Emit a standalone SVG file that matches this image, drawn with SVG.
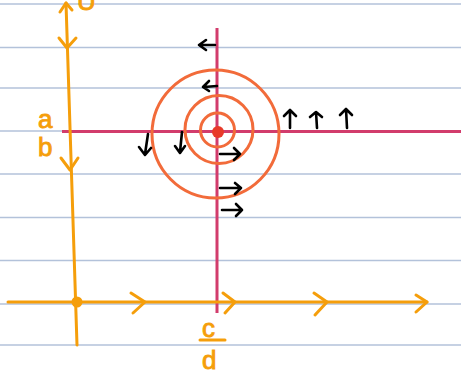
<svg xmlns="http://www.w3.org/2000/svg" width="461" height="371" viewBox="0 0 461 371">
<style>
.rule{stroke:#b3c2da;stroke-width:1.6}
.or{stroke:#f59e0b;stroke-width:3;fill:none;stroke-linecap:round;stroke-linejoin:round}
.mg{stroke:#d23c6c;stroke-width:3;fill:none}
.cir{stroke:#f26b3a;stroke-width:3;fill:none}
.bk{stroke:#000;stroke-width:2.6;fill:none;stroke-linecap:round;stroke-linejoin:round}
.lbl{font-family:"Liberation Sans",Arial,sans-serif;fill:#f59e0b;stroke:#f59e0b;stroke-width:0.9;font-size:26px}
</style>
<rect width="461" height="371" fill="#fff"/>
<g id="rules">
<line class="rule" x1="0" y1="4" x2="461" y2="4"/>
<line class="rule" x1="0" y1="47.5" x2="461" y2="47.5"/>
<line class="rule" x1="0" y1="88" x2="461" y2="88"/>
<line class="rule" x1="0" y1="131" x2="461" y2="131"/>
<line class="rule" x1="0" y1="174" x2="461" y2="174"/>
<line class="rule" x1="0" y1="217.5" x2="461" y2="217.5"/>
<line class="rule" x1="0" y1="260.5" x2="461" y2="260.5"/>
<line class="rule" x1="0" y1="304" x2="461" y2="304"/>
<line class="rule" x1="0" y1="345" x2="461" y2="345"/>
</g>
<g id="magenta-axes">
<line class="mg" x1="62" y1="131.5" x2="461" y2="131.5"/>
<line class="mg" x1="217" y1="28" x2="217" y2="313"/>
</g>
<g id="circles">
<ellipse class="cir" cx="215.5" cy="134" rx="63.5" ry="64"/>
<circle class="cir" cx="219" cy="129.5" r="34"/>
<circle class="cir" cx="217.5" cy="130" r="17"/>
<circle cx="218" cy="132" r="6" fill="#e83a2a"/>
</g>
<g id="orange-axes">
<line class="or" x1="66" y1="3" x2="77" y2="345"/>
<path class="or" d="M60,12 L66,3 L72,10"/>
<path class="or" d="M59,38 L67,48 L76,38"/>
<path class="or" d="M61,158 L70,170 L78,158"/>
<line class="or" x1="8" y1="302" x2="427" y2="302"/>
<circle cx="77" cy="302" r="5.5" fill="#f59e0b"/>
<path class="or" d="M131,293 L145,302 L133,313"/>
<path class="or" d="M223,293 L235,302 L225,313"/>
<path class="or" d="M314,293 L327,302 L315,315"/>
<path class="or" d="M416,295 L427,302 L416,312"/>
<line class="or" x1="200" y1="340" x2="225" y2="340"/>
</g>
<g id="labels">
<text class="lbl" x="38" y="128">a</text>
<text class="lbl" x="38" y="156">b</text>
<text class="lbl" x="202" y="337" font-size="28">c</text>
<text class="lbl" x="202" y="369" font-size="28">d</text>
<text class="lbl" x="77" y="10" font-size="28">U</text>
</g>
<g id="flow-arrows">
<path class="bk" d="M215,45 L199,45 M206,40 L199,45 L206,50"/>
<path class="bk" d="M217,86 L204,87 M209,81 L203,87 L209,91"/>
<path class="bk" d="M148,134 L145,154 M139,147 L145,155 L151,148"/>
<path class="bk" d="M182,132 L180,152 M175,146 L180,153 L185,146"/>
<path class="bk" d="M220,154 L240,154 M234,148 L240,154 L234,160"/>
<path class="bk" d="M220,188 L241,188 M235,183 L241,188 L235,194"/>
<path class="bk" d="M222,210 L242,210 M236,204 L242,210 L236,216"/>
<path class="bk" d="M290,128 L290,110 M284,116 L290,110 L296,116"/>
<path class="bk" d="M317,128 L316,112 M310,117 L316,112 L322,117"/>
<path class="bk" d="M347,128 L346,109 M340,115 L346,109 L352,115"/>
</g>
</svg>
